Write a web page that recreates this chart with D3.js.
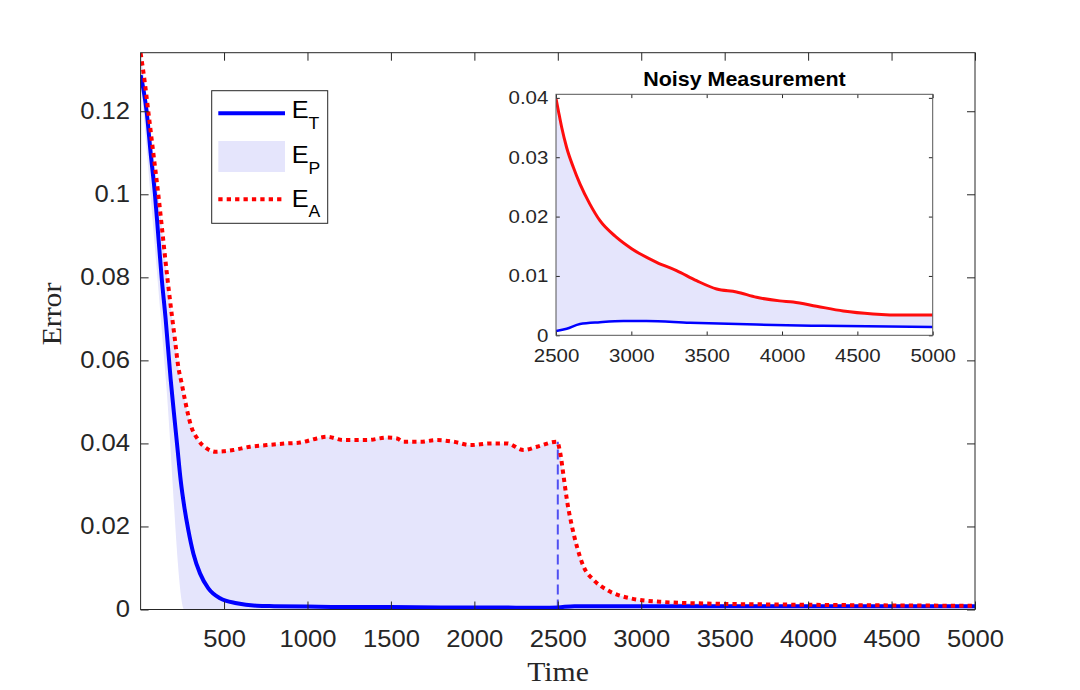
<!DOCTYPE html>
<html>
<head>
<meta charset="utf-8">
<script src="https://cdn.jsdelivr.net/npm/d3@7"></script>
<style>
  html, body { margin: 0; padding: 0; background: #fff; }
  svg { display: block; }
</style>
</head>
<body>
<script>
// ---------------- DATA ----------------
// Main plot: total error E_T (blue solid)
const mainTimeET = [0,18,36,60,86,106,126,150,180,200,220,240,262,286,316,356,406,476,576,696,800,1000,1200,1500,1800,2100,2400,2500,2600,2800,3000,3500,4000,4500,5000];
const mainET     = [0.1287,0.125,0.120,0.110,0.100,0.090,0.080,0.070,0.0555,0.0472,0.0392,0.0312,0.0247,0.0191,0.0135,0.0087,0.0051,0.0027,0.0015,0.0009,0.0008,0.0007,0.0006,0.0006,0.0005,0.0005,0.0004,0.0005,0.0008,0.0008,0.0008,0.0008,0.0008,0.0008,0.0008];

// Main plot: lower edge of the shaded E_P band
const mainTimeEPlow = [0,152,262,1000,2500,5000];
const mainEPlow     = [0.128,0.055,0,0,0,0];

// Main plot: E_A (red dotted) - also upper edge of the E_P band
const mainTimeEA = [0,25,46,76,106,133,160,186,206,226,246,266,300,346,396,446,496,556,656,756,876,956,1056,1116,1216,1356,1476,1536,1576,1676,1776,1876,1976,2096,2195,2295,2375,2495,2515,2535,2555,2585,2615,2655,2715,2795,2935,3135,3435,3835,4435,5000];
const mainEA     = [0.134,0.127,0.120,0.110,0.100,0.090,0.080,0.0713,0.0649,0.0584,0.0545,0.0504,0.0445,0.0408,0.0388,0.0380,0.0381,0.0384,0.0392,0.0396,0.0400,0.0402,0.0412,0.0416,0.0408,0.0408,0.0414,0.0412,0.0404,0.0404,0.0408,0.0404,0.0396,0.0400,0.0400,0.0384,0.0392,0.0404,0.0376,0.0320,0.0263,0.0200,0.0151,0.0103,0.0071,0.0047,0.0027,0.0018,0.0014,0.0012,0.0010,0.0009];

const switchTime = 2500;
const switchLevel = 0.0404;

// Inset (Noisy Measurement)
const insetTimeEA = [2500,2516,2538,2571,2615,2659,2725,2792,2902,3002,3168,3300,3433,3566,3698,3831,3985,4074,4229,4406,4604,4826,5000];
const insetEA     = [0.0399,0.0378,0.0350,0.0316,0.0283,0.0255,0.0221,0.0193,0.0165,0.0146,0.0123,0.0109,0.0092,0.0078,0.0073,0.0064,0.0058,0.0056,0.0049,0.0041,0.0036,0.0034,0.0034];
const insetTimeET = [2500,2571,2659,2792,2947,3100,3389,3831,4270,5000];
const insetET     = [0.0007,0.0011,0.0019,0.0022,0.0024,0.0024,0.0021,0.0018,0.0016,0.0014];

// Ticks
const mainXTicks = [500,1000,1500,2000,2500,3000,3500,4000,4500,5000];
const mainYTicks = [0,0.02,0.04,0.06,0.08,0.1,0.12];
const insetXTicks = [2500,3000,3500,4000,4500,5000];
const insetYTicks = [0,0.01,0.02,0.03,0.04];

const legendLabels = [["E","T"],["E","P"],["E","A"]];

// ---------------- DRAW ----------------
const W = 1080, H = 690, SX = 1.1;
const sansFont = "'Liberation Sans', Arial, Helvetica, sans-serif";
const serifFont = "'Liberation Serif', 'Times New Roman', serif";
const axisColor = "#262626";
const blue = "#0000ff", red = "#ff0000", fillCol = "rgb(229,229,252)";

const svg = d3.select("body").append("svg").attr("width", W).attr("height", H);

const zip = (ts, vs) => ts.map((t, i) => [t, vs[i]]);

function fillPath(line, upper, lower) {
  const up = line(upper);
  const lo = line(lower.slice().reverse());
  return up + "L" + lo.slice(1) + "Z";
}

// ----- Main axes -----
const x = d3.scaleLinear().domain([0, 5000]).range([140.6, 975]);
const y = d3.scaleLinear().domain([0, 0.1341]).range([609.5, 52.7]);

svg.append("defs").append("clipPath").attr("id", "mainClip")
  .append("rect").attr("x", x.range()[0]).attr("y", y.range()[1])
  .attr("width", x.range()[1] - x.range()[0]).attr("height", y.range()[0] - y.range()[1]);

const mLine = d3.line().x(d => x(d[0])).y(d => y(d[1])).curve(d3.curveMonotoneX);
const plot = svg.append("g").attr("clip-path", "url(#mainClip)");

const EA = zip(mainTimeEA, mainEA);
const ET = zip(mainTimeET, mainET);
const EPlow = zip(mainTimeEPlow, mainEPlow);

plot.append("path").attr("d", fillPath(mLine, EA, EPlow)).attr("fill", fillCol).attr("stroke", "none");

plot.append("line")
  .attr("x1", x(switchTime)).attr("x2", x(switchTime))
  .attr("y1", y(0)).attr("y2", y(switchLevel))
  .attr("stroke", "#4f4ff2").attr("stroke-width", 2).attr("stroke-dasharray", "10,5");

plot.append("path").attr("d", mLine(ET)).attr("fill", "none")
  .attr("stroke", blue).attr("stroke-width", 4).attr("stroke-linejoin", "round");

plot.append("path").attr("d", mLine(EA)).attr("fill", "none")
  .attr("stroke", red).attr("stroke-width", 4).attr("stroke-dasharray", "4.3,4.1");

// axes
const gx = svg.append("g").attr("transform", `translate(0,${y(0)})`)
  .call(d3.axisBottom(x).tickValues(mainXTicks).tickFormat(d3.format("d")).tickSizeInner(-8).tickSizeOuter(0).tickPadding(20.5));
const gxTop = svg.append("g").attr("transform", `translate(0,${y.range()[1]})`)
  .call(d3.axisTop(x).tickValues(mainXTicks).tickFormat("").tickSizeInner(-8).tickSizeOuter(0));
const gy = svg.append("g").attr("transform", `translate(${x.range()[0]},0)`)
  .call(d3.axisLeft(y).tickValues(mainYTicks).tickFormat(d => d === 0 ? "0" : String(+d.toFixed(2))).tickSizeInner(-8).tickSizeOuter(0).tickPadding(10.6));
const gyR = svg.append("g").attr("transform", `translate(${x.range()[1]},0)`)
  .call(d3.axisRight(y).tickValues(mainYTicks).tickFormat("").tickSizeInner(-8).tickSizeOuter(0));

[gx, gxTop, gy, gyR].forEach(g => {
  g.select(".domain").remove();
  g.selectAll(".tick line").attr("stroke", axisColor).attr("stroke-width", 1);
  g.selectAll("text").attr("fill", axisColor).attr("font-family", sansFont).attr("font-size", 23.3);
});
gx.selectAll(".tick text").attr("transform", `scale(${SX},1)`);
gy.selectAll(".tick text").attr("x", -10.6 / SX).attr("transform", `scale(${SX},1)`);

svg.append("rect")
  .attr("x", x.range()[0]).attr("y", y.range()[1])
  .attr("width", x.range()[1] - x.range()[0]).attr("height", y.range()[0] - y.range()[1])
  .attr("fill", "none").attr("stroke", axisColor).attr("stroke-width", 1);

// axis labels
svg.append("text").attr("transform", `translate(558,681) scale(${SX},1)`)
  .attr("text-anchor", "middle").attr("font-family", serifFont).attr("font-size", 27)
  .attr("fill", axisColor).text("Time");
svg.append("text").attr("transform", `translate(60.5,314) rotate(-90) scale(${SX},1)`)
  .attr("text-anchor", "middle").attr("font-family", serifFont).attr("font-size", 27)
  .attr("fill", axisColor).text("Error");

// ----- Legend -----
const lg = svg.append("g");
lg.append("rect").attr("x", 211.7).attr("y", 90.7).attr("width", 116).attr("height", 132.6)
  .attr("fill", "#fff").attr("stroke", axisColor).attr("stroke-width", 1);
lg.append("line").attr("x1", 218.3).attr("x2", 285).attr("y1", 113.3).attr("y2", 113.3)
  .attr("stroke", blue).attr("stroke-width", 4);
lg.append("rect").attr("x", 218.3).attr("y", 141).attr("width", 66.7).attr("height", 31)
  .attr("fill", fillCol);
lg.append("line").attr("x1", 218.3).attr("x2", 285).attr("y1", 199.3).attr("y2", 199.3)
  .attr("stroke", red).attr("stroke-width", 4).attr("stroke-dasharray", "4.3,4.1");
const legendBaselines = [118.3, 163.3, 206.7];
legendLabels.forEach((lab, i) => {
  const t = lg.append("text").attr("transform", `translate(291.7,${legendBaselines[i]}) scale(${SX},1)`)
    .attr("font-family", sansFont).attr("fill", "#000");
  t.append("tspan").attr("font-size", 23).text(lab[0]);
  t.append("tspan").attr("font-size", 16).attr("dy", 10.5).text(lab[1]);
});

// ----- Inset -----
const xi = d3.scaleLinear().domain([2500, 5000]).range([556, 932.7]);
const yi = d3.scaleLinear().domain([0, 0.0406]).range([335.3, 94.3]);
const ins = svg.append("g");
ins.append("rect").attr("x", xi.range()[0]).attr("y", yi.range()[1])
  .attr("width", xi.range()[1] - xi.range()[0]).attr("height", yi.range()[0] - yi.range()[1])
  .attr("fill", "#fff");

svg.select("defs").append("clipPath").attr("id", "insClip")
  .append("rect").attr("x", xi.range()[0]).attr("y", yi.range()[1])
  .attr("width", xi.range()[1] - xi.range()[0]).attr("height", yi.range()[0] - yi.range()[1]);

const iLine = d3.line().x(d => xi(d[0])).y(d => yi(d[1])).curve(d3.curveMonotoneX);
const iEA = zip(insetTimeEA, insetEA);
const iET = zip(insetTimeET, insetET);
const ip = ins.append("g").attr("clip-path", "url(#insClip)");
ip.append("path").attr("d", fillPath(iLine, iEA, iET)).attr("fill", fillCol);
ip.append("path").attr("d", iLine(iET)).attr("fill", "none").attr("stroke", blue).attr("stroke-width", 2.5);
ip.append("path").attr("d", iLine(iEA)).attr("fill", "none").attr("stroke", red).attr("stroke-width", 3).attr("stroke-opacity", 0.95);

const ix = ins.append("g").attr("transform", `translate(0,${yi(0)})`)
  .call(d3.axisBottom(xi).tickValues(insetXTicks).tickFormat(d3.format("d")).tickSizeInner(-3.8).tickSizeOuter(0).tickPadding(13));
const ixT = ins.append("g").attr("transform", `translate(0,${yi.range()[1]})`)
  .call(d3.axisTop(xi).tickValues(insetXTicks).tickFormat("").tickSizeInner(-3.8).tickSizeOuter(0));
const iy = ins.append("g").attr("transform", `translate(${xi.range()[0]},0)`)
  .call(d3.axisLeft(yi).tickValues(insetYTicks).tickFormat(d => d === 0 ? "0" : String(+d.toFixed(2))).tickSizeInner(-3.8).tickSizeOuter(0).tickPadding(7.7));
const iyR = ins.append("g").attr("transform", `translate(${xi.range()[1]},0)`)
  .call(d3.axisRight(yi).tickValues(insetYTicks).tickFormat("").tickSizeInner(-3.8).tickSizeOuter(0));
[ix, ixT, iy, iyR].forEach(g => {
  g.select(".domain").remove();
  g.selectAll(".tick line").attr("stroke", axisColor).attr("stroke-width", 1);
  g.selectAll("text").attr("fill", axisColor).attr("font-family", sansFont).attr("font-size", 18.6);
});
ix.selectAll(".tick text").attr("transform", `scale(${SX},1)`);
iy.selectAll(".tick text").attr("x", -7.7 / SX).attr("transform", `scale(${SX},1)`);

ins.append("rect").attr("x", xi.range()[0]).attr("y", yi.range()[1])
  .attr("width", xi.range()[1] - xi.range()[0]).attr("height", yi.range()[0] - yi.range()[1])
  .attr("fill", "none").attr("stroke", "#555").attr("stroke-width", 1);

ins.append("text").attr("transform", `translate(744.5,86) scale(${SX},1)`)
  .attr("text-anchor", "middle").attr("font-family", sansFont).attr("font-weight", "bold")
  .attr("font-size", 19.5).attr("fill", "#000").text("Noisy Measurement");
</script>
</body>
</html>
